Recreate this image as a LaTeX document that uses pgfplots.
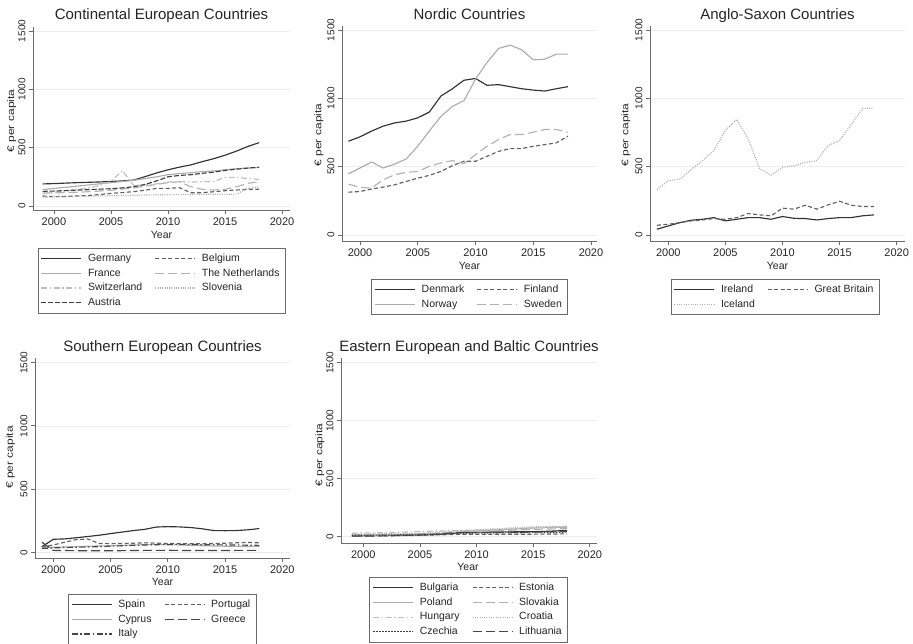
\documentclass[border=0pt]{standalone}
\usepackage{fontspec}
\setmainfont{Liberation Sans}
\usepackage{pgfplots}
\pgfplotsset{compat=1.18}
\usepackage{graphicx}

\definecolor{gridc}{gray}{0.93}
\definecolor{axc}{gray}{0.42}

\tikzset{
 sA/.style={color=black!80, solid},
 sB/.style={color=black!62, dash pattern=on 4pt off 2.5pt},
 sC/.style={color=black!32, solid},
 sD/.style={color=black!30, dash pattern=on 9pt off 4pt},
 sE/.style={color=black!25, dash pattern=on 6pt off 2.5pt on 1.5pt off 2.5pt},
 sF/.style={color=black!32, dash pattern=on 1pt off 1.3pt},
 sG/.style={color=black!75, dash pattern=on 5pt off 2pt},
 sGd/.style={color=black!75, dash pattern=on 1.5pt off 1.5pt},
 sH/.style={color=black!72, dash pattern=on 9pt off 4pt},
 sI/.style={color=black!72, dash pattern=on 6pt off 2.5pt on 1.5pt off 2.5pt},
}

\pgfplotsset{
 panel/.style={
  scale only axis,
  axis x line*=bottom, axis y line*=left,
  axis line style={axc, line width=0.8pt},
  xtick={2000,2005,...,2020}, ytick={0,500,1000,1500},
  ymajorgrids, major grid style={gridc, line width=0.7pt},
  tick align=outside, major tick length=4pt,
  tick style={axc, line width=0.8pt},
  scaled ticks=false,
  /pgf/number format/1000 sep={},
  /pgf/number format/assume math mode=true,
  xticklabel style={font=\fontsize{11}{13}\selectfont, text=black!85},
  yticklabel style={font=\fontsize{10}{12}\selectfont, rotate=90, anchor=south, text=black!85},
  legend columns=2,
  legend cell align=left,
  legend image code/.code={\draw[##1] (0pt,0pt) -- (40pt,0pt);},
  legend style={draw=axc, line width=0.6pt, font=\fontsize{10.5}{12}\selectfont,
     inner sep=3pt, row sep=0pt, anchor=north, text=black!85,
     nodes={inner ysep=2pt, inner xsep=2.5pt, text height=8.2pt, text depth=2.5pt},
     /tikz/every odd column/.append style={column sep=3.5pt},
     /tikz/every even column/.append style={column sep=10pt}},
  every axis plot/.append style={line width=1.15pt, mark=none},
 },
}

\begin{document}
\begin{tikzpicture}
\useasboundingbox (0,0) rectangle (913pt,644pt);

% ---------------- Continental
\begin{axis}[panel, at={(33pt,434pt)}, anchor=south west, width=257pt, height=183pt,
  xmin=1998.16, xmax=2020.7, ymin=-34.3, ymax=1534,
  legend style={at={(0.5,-0.2077)}}]
\addplot[sA] table[row sep=\\] {x y\\ 1999 189\\ 2000 192\\ 2001 196\\ 2002 200\\ 2003 203\\ 2004 206\\ 2005 210\\ 2006 215\\ 2007 222\\ 2008 252\\ 2009 283\\ 2010 310\\ 2011 333\\ 2012 352\\ 2013 380\\ 2014 405\\ 2015 435\\ 2016 470\\ 2017 510\\ 2018 543\\};
\addlegendentry{Germany}
\addplot[sB] table[row sep=\\] {x y\\ 1999 86\\ 2000 80\\ 2001 82\\ 2002 86\\ 2003 90\\ 2004 98\\ 2005 108\\ 2006 115\\ 2007 123\\ 2008 135\\ 2009 151\\ 2010 151\\ 2011 157\\ 2012 114\\ 2013 114\\ 2014 122\\ 2015 131\\ 2016 137\\ 2017 143\\ 2018 143\\};
\addlegendentry{Belgium}
\addplot[sC] table[row sep=\\] {x y\\ 1999 140\\ 2000 150\\ 2001 160\\ 2002 170\\ 2003 180\\ 2004 190\\ 2005 200\\ 2006 210\\ 2007 220\\ 2008 235\\ 2009 250\\ 2010 268\\ 2011 278\\ 2012 285\\ 2013 295\\ 2014 300\\ 2015 310\\ 2016 320\\ 2017 325\\ 2018 330\\};
\addlegendentry{France}
\addplot[sD] table[row sep=\\] {x y\\ 1999 110\\ 2000 112\\ 2001 115\\ 2002 118\\ 2003 122\\ 2004 128\\ 2005 135\\ 2006 145\\ 2007 155\\ 2008 170\\ 2009 185\\ 2010 200\\ 2011 208\\ 2012 165\\ 2013 143\\ 2014 137\\ 2015 143\\ 2016 165\\ 2017 194\\ 2018 208\\};
\addlegendentry{The Netherlands}
\addplot[sE] table[row sep=\\] {x y\\ 1999 110\\ 2000 118\\ 2001 128\\ 2002 140\\ 2003 155\\ 2004 175\\ 2005 210\\ 2006 303\\ 2007 175\\ 2008 180\\ 2009 190\\ 2010 205\\ 2011 210\\ 2012 205\\ 2013 208\\ 2014 210\\ 2015 245\\ 2016 245\\ 2017 235\\ 2018 228\\};
\addlegendentry{Switzerland}
\addplot[sF] table[row sep=\\] {x y\\ 1999 75\\ 2000 78\\ 2001 80\\ 2002 82\\ 2003 84\\ 2004 86\\ 2005 88\\ 2006 90\\ 2007 92\\ 2008 94\\ 2009 96\\ 2010 97\\ 2011 98\\ 2012 99\\ 2013 100\\ 2014 100\\ 2015 100\\ 2016 102\\ 2017 150\\ 2018 165\\};
\addlegendentry{Slovenia}
\addplot[sG] table[row sep=\\] {x y\\ 1999 125\\ 2000 128\\ 2001 132\\ 2002 136\\ 2003 140\\ 2004 144\\ 2005 148\\ 2006 155\\ 2007 165\\ 2008 185\\ 2009 215\\ 2010 250\\ 2011 262\\ 2012 268\\ 2013 280\\ 2014 290\\ 2015 305\\ 2016 315\\ 2017 325\\ 2018 333\\};
\addlegendentry{Austria}
\end{axis}

% ---------------- Nordic
\begin{axis}[panel, at={(342pt,403pt)}, anchor=south west, width=255pt, height=215pt,
  xmin=1998.44, xmax=2020.52, ymin=-44, ymax=1529,
  legend style={at={(0.5,-0.1767)}}]
\addplot[sA] table[row sep=\\] {x y\\ 1999 686\\ 2000 718\\ 2001 760\\ 2002 796\\ 2003 820\\ 2004 833\\ 2005 857\\ 2006 899\\ 2007 1016\\ 2008 1070\\ 2009 1132\\ 2010 1145\\ 2011 1095\\ 2012 1100\\ 2013 1085\\ 2014 1070\\ 2015 1060\\ 2016 1053\\ 2017 1070\\ 2018 1085\\};
\addlegendentry{Denmark}
\addplot[sB] table[row sep=\\] {x y\\ 1999 313\\ 2000 318\\ 2001 336\\ 2002 350\\ 2003 367\\ 2004 392\\ 2005 416\\ 2006 436\\ 2007 465\\ 2008 507\\ 2009 539\\ 2010 539\\ 2011 576\\ 2012 612\\ 2013 632\\ 2014 632\\ 2015 649\\ 2016 661\\ 2017 674\\ 2018 723\\};
\addlegendentry{Finland}
\addplot[sC] table[row sep=\\] {x y\\ 1999 448\\ 2000 490\\ 2001 534\\ 2002 490\\ 2003 519\\ 2004 556\\ 2005 650\\ 2006 760\\ 2007 867\\ 2008 941\\ 2009 983\\ 2010 1140\\ 2011 1262\\ 2012 1365\\ 2013 1389\\ 2014 1355\\ 2015 1281\\ 2016 1286\\ 2017 1323\\ 2018 1323\\};
\addlegendentry{Norway}
\addplot[sD] table[row sep=\\] {x y\\ 1999 372\\ 2000 348\\ 2001 343\\ 2002 404\\ 2003 441\\ 2004 458\\ 2005 465\\ 2006 502\\ 2007 527\\ 2008 544\\ 2009 522\\ 2010 588\\ 2011 649\\ 2012 698\\ 2013 735\\ 2014 735\\ 2015 752\\ 2016 772\\ 2017 772\\ 2018 752\\};
\addlegendentry{Sweden}
\end{axis}

% ---------------- Anglo-Saxon
\begin{axis}[panel, at={(650pt,403pt)}, anchor=south west, width=255pt, height=215pt,
  xmin=1998.4, xmax=2020.73, ymin=-44, ymax=1529,
  legend style={at={(0.49,-0.1767)}}]
\addplot[sA] table[row sep=\\] {x y\\ 1999 42\\ 2000 66\\ 2001 90\\ 2002 108\\ 2003 115\\ 2004 127\\ 2005 103\\ 2006 115\\ 2007 127\\ 2008 127\\ 2009 115\\ 2010 135\\ 2011 122\\ 2012 120\\ 2013 110\\ 2014 120\\ 2015 127\\ 2016 127\\ 2017 140\\ 2018 147\\};
\addlegendentry{Ireland}
\addplot[sB] table[row sep=\\] {x y\\ 1999 71\\ 2000 78\\ 2001 90\\ 2002 103\\ 2003 110\\ 2004 120\\ 2005 115\\ 2006 127\\ 2007 157\\ 2008 147\\ 2009 140\\ 2010 196\\ 2011 189\\ 2012 218\\ 2013 189\\ 2014 220\\ 2015 247\\ 2016 218\\ 2017 208\\ 2018 208\\};
\addlegendentry{Great Britain}
\addplot[sF] table[row sep=\\] {x y\\ 1999 331\\ 2000 397\\ 2001 409\\ 2002 478\\ 2003 544\\ 2004 618\\ 2005 765\\ 2006 846\\ 2007 704\\ 2008 483\\ 2009 438\\ 2010 494\\ 2011 506\\ 2012 531\\ 2013 544\\ 2014 654\\ 2015 691\\ 2016 806\\ 2017 924\\ 2018 929\\};
\addlegendentry{Iceland}
\end{axis}

% ---------------- Southern
\begin{axis}[panel, at={(35pt,86pt)}, anchor=south west, width=255pt, height=200pt,
  xmin=1998.4, xmax=2020.67, ymin=-45, ymax=1537,
  legend style={at={(0.498,-0.18)}}]
\addplot[sA] table[row sep=\\] {x y\\ 1999 44\\ 2000 103\\ 2001 106\\ 2002 115\\ 2003 125\\ 2004 135\\ 2005 148\\ 2006 160\\ 2007 172\\ 2008 182\\ 2009 200\\ 2010 203\\ 2011 201\\ 2012 196\\ 2013 186\\ 2014 172\\ 2015 171\\ 2016 172\\ 2017 178\\ 2018 188\\};
\addlegendentry{Spain}
\addplot[sB] table[row sep=\\] {x y\\ 1999 40\\ 2000 58\\ 2001 80\\ 2002 100\\ 2003 105\\ 2004 70\\ 2005 68\\ 2006 70\\ 2007 72\\ 2008 75\\ 2009 72\\ 2010 70\\ 2011 68\\ 2012 68\\ 2013 68\\ 2014 70\\ 2015 72\\ 2016 75\\ 2017 78\\ 2018 75\\};
\addlegendentry{Portugal}
\addplot[sC] table[row sep=\\] {x y\\ 1999 35\\ 2000 40\\ 2001 42\\ 2002 45\\ 2003 48\\ 2004 50\\ 2005 52\\ 2006 55\\ 2007 58\\ 2008 60\\ 2009 62\\ 2010 60\\ 2011 58\\ 2012 55\\ 2013 52\\ 2014 50\\ 2015 48\\ 2016 47\\ 2017 46\\ 2018 45\\};
\addlegendentry{Cyprus}
\addplot[sH] table[row sep=\\] {x y\\ 1999 80\\ 2000 15\\ 2001 14\\ 2002 13\\ 2003 12\\ 2004 12\\ 2005 12\\ 2006 13\\ 2007 14\\ 2008 15\\ 2009 15\\ 2010 16\\ 2011 15\\ 2012 14\\ 2013 14\\ 2014 14\\ 2015 14\\ 2016 15\\ 2017 15\\ 2018 15\\};
\addlegendentry{Greece}
\addplot[sI] table[row sep=\\] {x y\\ 1999 30\\ 2000 35\\ 2001 38\\ 2002 40\\ 2003 42\\ 2004 45\\ 2005 48\\ 2006 52\\ 2007 55\\ 2008 58\\ 2009 60\\ 2010 62\\ 2011 63\\ 2012 62\\ 2013 60\\ 2014 60\\ 2015 58\\ 2016 58\\ 2017 56\\ 2018 55\\};
\addlegendentry{Italy}
\end{axis}

% ---------------- Eastern
\begin{axis}[panel, at={(341pt,101pt)}, anchor=south west, width=256pt, height=185pt,
  xmin=1998.03, xmax=2020.63, ymin=-54, ymax=1540,
  legend style={at={(0.498,-0.184)}}]
\addplot[sA] table[row sep=\\] {x y\\ 1999 8\\ 2000 9\\ 2001 10\\ 2002 11\\ 2003 12\\ 2004 14\\ 2005 16\\ 2006 18\\ 2007 22\\ 2008 30\\ 2009 38\\ 2010 40\\ 2011 40\\ 2012 41\\ 2013 42\\ 2014 43\\ 2015 44\\ 2016 46\\ 2017 50\\ 2018 55\\};
\addlegendentry{Bulgaria}
\addplot[sB] table[row sep=\\] {x y\\ 1999 5\\ 2000 6\\ 2001 7\\ 2002 8\\ 2003 9\\ 2004 10\\ 2005 12\\ 2006 14\\ 2007 17\\ 2008 20\\ 2009 22\\ 2010 20\\ 2011 20\\ 2012 21\\ 2013 21\\ 2014 22\\ 2015 22\\ 2016 23\\ 2017 24\\ 2018 25\\};
\addlegendentry{Estonia}
\addplot[sC] table[row sep=\\] {x y\\ 1999 10\\ 2000 11\\ 2001 12\\ 2002 13\\ 2003 15\\ 2004 17\\ 2005 20\\ 2006 24\\ 2007 30\\ 2008 38\\ 2009 45\\ 2010 50\\ 2011 55\\ 2012 60\\ 2013 65\\ 2014 70\\ 2015 75\\ 2016 78\\ 2017 80\\ 2018 82\\};
\addlegendentry{Poland}
\addplot[sD] table[row sep=\\] {x y\\ 1999 15\\ 2000 16\\ 2001 17\\ 2002 18\\ 2003 20\\ 2004 22\\ 2005 25\\ 2006 28\\ 2007 32\\ 2008 38\\ 2009 42\\ 2010 45\\ 2011 48\\ 2012 52\\ 2013 56\\ 2014 60\\ 2015 64\\ 2016 66\\ 2017 68\\ 2018 70\\};
\addlegendentry{Slovakia}
\addplot[sE] table[row sep=\\] {x y\\ 1999 30\\ 2000 32\\ 2001 34\\ 2002 36\\ 2003 38\\ 2004 41\\ 2005 45\\ 2006 48\\ 2007 50\\ 2008 52\\ 2009 54\\ 2010 56\\ 2011 58\\ 2012 62\\ 2013 66\\ 2014 70\\ 2015 75\\ 2016 80\\ 2017 84\\ 2018 88\\};
\addlegendentry{Hungary}
\addplot[sF] table[row sep=\\] {x y\\ 1999 20\\ 2000 22\\ 2001 24\\ 2002 26\\ 2003 28\\ 2004 29\\ 2005 30\\ 2006 35\\ 2007 42\\ 2008 50\\ 2009 55\\ 2010 60\\ 2011 65\\ 2012 70\\ 2013 75\\ 2014 80\\ 2015 85\\ 2016 87\\ 2017 89\\ 2018 90\\};
\addlegendentry{Croatia}
\addplot[sGd] table[row sep=\\] {x y\\ 1999 12\\ 2000 13\\ 2001 14\\ 2002 15\\ 2003 16\\ 2004 18\\ 2005 20\\ 2006 22\\ 2007 24\\ 2008 27\\ 2009 30\\ 2010 31\\ 2011 32\\ 2012 33\\ 2013 34\\ 2014 35\\ 2015 36\\ 2016 37\\ 2017 38\\ 2018 40\\};
\addlegendentry{Czechia}
\addplot[sH] table[row sep=\\] {x y\\ 1999 5\\ 2000 6\\ 2001 7\\ 2002 8\\ 2003 10\\ 2004 12\\ 2005 15\\ 2006 18\\ 2007 25\\ 2008 35\\ 2009 36\\ 2010 35\\ 2011 36\\ 2012 37\\ 2013 38\\ 2014 39\\ 2015 40\\ 2016 42\\ 2017 44\\ 2018 46\\};
\addlegendentry{Lithuania}
\end{axis}

% ---------------- titles and axis titles
\tikzset{ttl/.style={anchor=base, font=\fontsize{15}{17}\selectfont, text=black!85},
         yl/.style={rotate=90, font=\fontsize{12}{14}\selectfont, text=black!85},
         xl/.style={font=\fontsize{10.5}{12}\selectfont, text=black!85}}
\node[ttl] at (161.5pt,624.7pt) {Continental European Countries};
\node[ttl] at (469.5pt,624.7pt) {Nordic Countries};
\node[ttl] at (777.5pt,624.7pt) {Anglo-Saxon Countries};
\node[ttl] at (162.5pt,292.3pt) {Southern European Countries};
\node[ttl] at (469pt,292.3pt) {Eastern European and Baltic Countries};

\node[yl] at (11.7pt,523pt) {\scalebox{1}[0.8]{€ per capita}};
\node[yl] at (319pt,509pt) {\scalebox{1}[0.8]{€ per capita}};
\node[yl] at (626pt,509pt) {\scalebox{1}[0.8]{€ per capita}};
\node[yl] at (10.3pt,186.5pt) {\scalebox{1}[0.8]{€ per capita}};
\node[yl] at (320pt,189pt) {\scalebox{1}[0.8]{€ per capita}};

\node[xl] at (161.5pt,409.5pt) {Year};
\node[xl] at (469.5pt,378pt) {Year};
\node[xl] at (777.5pt,378pt) {Year};
\node[xl] at (162.5pt,62pt) {Year};
\node[xl] at (468pt,77pt) {Year};
\end{tikzpicture}
\end{document}
